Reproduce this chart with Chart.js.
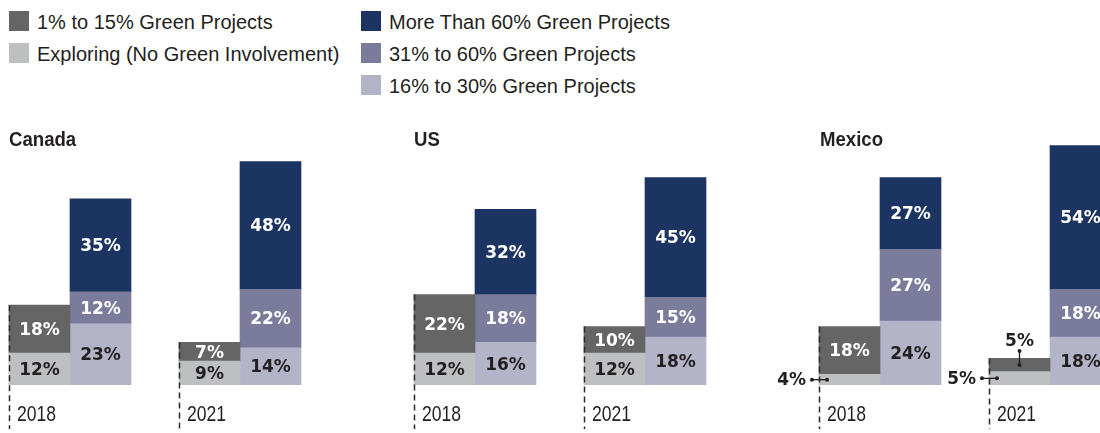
<!DOCTYPE html>
<html>
<head>
<meta charset="utf-8">
<script src="https://cdn.jsdelivr.net/npm/chart.js@4"></script>
<style>
  html, body { margin: 0; padding: 0; background: #fff; }
  body { position: relative; width: 1100px; height: 433px; overflow: hidden; }
  .txt { font-family: "Liberation Sans", Arial, sans-serif; color: #231f20; }
  .legend-item { position: absolute; height: 20px; white-space: nowrap; }
  .legend-item .swatch { position: absolute; left: 0; top: 0; width: 20px; height: 20px; }
  .legend-item .label { position: absolute; left: 28px; top: 1px; font-size: 20px; line-height: 20px; }
  .panel-title { position: absolute; top: 129px; font-size: 20px; line-height: 21px; font-weight: bold;
                 transform: scaleX(0.93); transform-origin: 0 0; z-index: 2; white-space: nowrap; }
  canvas.panel { position: absolute; top: 119px; }
</style>
</head>
<body>
<script>
// Share of architecture firms by involvement in green projects
const countries = ['Canada', 'US', 'Mexico'];
const years = ['2018', '2021'];

// values per country, [2018, 2021]
const exploringNoGreen = [[12, 9], [12, 12], [4, 5]];
const green1to15 = [[18, 7], [22, 10], [18, 5]];
const green16to30 = [[23, 14], [16, 18], [24, 18]];
const green31to60 = [[12, 22], [18, 15], [27, 18]];
const greenOver60 = [[35, 48], [32, 45], [27, 54]];

const seriesNames = [
  'Exploring (No Green Involvement)',
  '1% to 15% Green Projects',
  '16% to 30% Green Projects',
  '31% to 60% Green Projects',
  'More Than 60% Green Projects'
];
const seriesValues = [exploringNoGreen, green1to15, green16to30, green31to60, greenOver60];
const seriesColors = ['#bebfc1', '#656566', '#b4b4c9', '#7b7b9b', '#1b3461'];
const seriesLabelColors = ['#231f20', '#ffffff', '#231f20', '#ffffff', '#ffffff'];
const seriesStacks = ['low', 'low', 'high', 'high', 'high'];

const SANS = '"Liberation Sans", Arial, sans-serif';
const BOLD = '"DejaVu Sans", "Liberation Sans", sans-serif';

// ---- legend: two columns, column-major ----
const legendColumns = [[1, 0], [4, 3, 2]];
const legendColX = [9, 361];
legendColumns.forEach((col, ci) => {
  col.forEach((si, ri) => {
    const item = document.createElement('div');
    item.className = 'legend-item txt';
    item.style.left = legendColX[ci] + 'px';
    item.style.top = (11 + ri * 32) + 'px';
    const sw = document.createElement('div');
    sw.className = 'swatch';
    sw.style.background = seriesColors[si];
    const lb = document.createElement('div');
    lb.className = 'label';
    lb.textContent = seriesNames[si];
    item.appendChild(sw);
    item.appendChild(lb);
    document.body.appendChild(item);
  });
});

// ---- value labels, dashed year markers ----
const panelDecor = {
  id: 'panelDecor',
  afterDatasetsDraw(chart) {
    const ctx = chart.ctx;
    const area = chart.chartArea;
    const lowMeta = chart.getDatasetMeta(0);
    const topMeta = chart.getDatasetMeta(1);

    // dashed marker line and year label at the left edge of each year group
    ctx.save();
    lowMeta.data.forEach((el, j) => {
      const p = el.getProps(['x', 'width'], true);
      const left = Math.round(p.x - p.width / 2) + 0.5;
      const top = topMeta.data[j].getProps(['y'], true).y;
      ctx.strokeStyle = '#2b2b2b';
      ctx.lineWidth = 1.5;
      ctx.setLineDash([6, 4]);
      ctx.beginPath();
      ctx.moveTo(left, top);
      ctx.lineTo(left, area.bottom + 44);
      ctx.stroke();
      ctx.setLineDash([]);
      ctx.save();
      ctx.translate(left + 7.5, area.bottom + 36);
      ctx.scale(0.8, 1);
      ctx.fillStyle = '#231f20';
      ctx.font = '22px ' + SANS;
      ctx.textAlign = 'left';
      ctx.textBaseline = 'alphabetic';
      ctx.fillText(chart.data.labels[j], 0, 0);
      ctx.restore();
    });
    ctx.restore();

    // percentage labels
    ctx.save();
    ctx.font = 'bold 17px ' + BOLD;
    chart.data.datasets.forEach((ds, i) => {
      const meta = chart.getDatasetMeta(i);
      const firstInStack = chart.data.datasets.findIndex(d => d.stack === ds.stack) === i;
      meta.data.forEach((el, j) => {
        const v = ds.data[j];
        const p = el.getProps(['x', 'y', 'base', 'width'], true);
        const cy = (p.y + p.base) / 2;
        const text = v + '%';
        if (v >= 6) {
          ctx.fillStyle = ds.labelColor;
          ctx.textAlign = 'center';
          ctx.textBaseline = 'middle';
          ctx.fillText(text, p.x, cy + 1.5);
          return;
        }
        // thin segments get an outside label with a leader line
        ctx.fillStyle = '#231f20';
        ctx.strokeStyle = '#231f20';
        ctx.lineWidth = 1.3;
        const dot = (x, y) => { ctx.beginPath(); ctx.arc(x, y, 2, 0, Math.PI * 2); ctx.fill(); };
        if (firstInStack) {
          const left = p.x - p.width / 2;
          ctx.beginPath();
          ctx.moveTo(left - 7, cy);
          ctx.lineTo(left + 8, cy);
          ctx.stroke();
          dot(left - 7, cy);
          dot(left + 8, cy);
          ctx.textAlign = 'right';
          ctx.textBaseline = 'middle';
          ctx.fillText(text, left - 13, cy + 1);
        } else {
          ctx.beginPath();
          ctx.moveTo(p.x, cy);
          ctx.lineTo(p.x, cy - 14);
          ctx.stroke();
          dot(p.x, cy);
          dot(p.x, cy - 14);
          ctx.textAlign = 'center';
          ctx.textBaseline = 'alphabetic';
          ctx.fillText(text, p.x, cy - 19);
        }
      });
    });
    ctx.restore();
  }
};

// ---- one chart per country ----
const PAD_LEFT = 50;
const panelLeft = [-15, 390, 795];
const titleLeft = [9, 414, 820];
countries.forEach((country, ci) => {
  const title = document.createElement('div');
  title.className = 'panel-title txt';
  title.style.left = titleLeft[ci] + 'px';
  title.textContent = country;
  document.body.appendChild(title);

  const canvas = document.createElement('canvas');
  canvas.className = 'panel';
  canvas.width = 340 + PAD_LEFT;
  canvas.height = 314;
  canvas.style.left = (panelLeft[ci] - PAD_LEFT) + 'px';
  canvas.style.width = (340 + PAD_LEFT) + 'px';
  canvas.style.height = '314px';
  document.body.appendChild(canvas);

  new Chart(canvas, {
    type: 'bar',
    data: {
      labels: years,
      datasets: seriesNames.map((name, si) => ({
        label: name,
        data: seriesValues[si][ci],
        backgroundColor: seriesColors[si],
        labelColor: seriesLabelColors[si],
        stack: seriesStacks[si],
        borderWidth: 0,
        barThickness: 61
      }))
    },
    options: {
      responsive: false,
      animation: false,
      devicePixelRatio: 1,
      layout: { padding: { left: PAD_LEFT, right: 0, top: 0, bottom: 48 } },
      plugins: { legend: { display: false }, tooltip: { enabled: false } },
      scales: {
        x: { display: false, stacked: true, offset: true, grid: { display: false } },
        y: { display: false, stacked: true, min: 0, max: 100, grid: { display: false } }
      }
    },
    plugins: [panelDecor]
  });
});
</script>
</body>
</html>
